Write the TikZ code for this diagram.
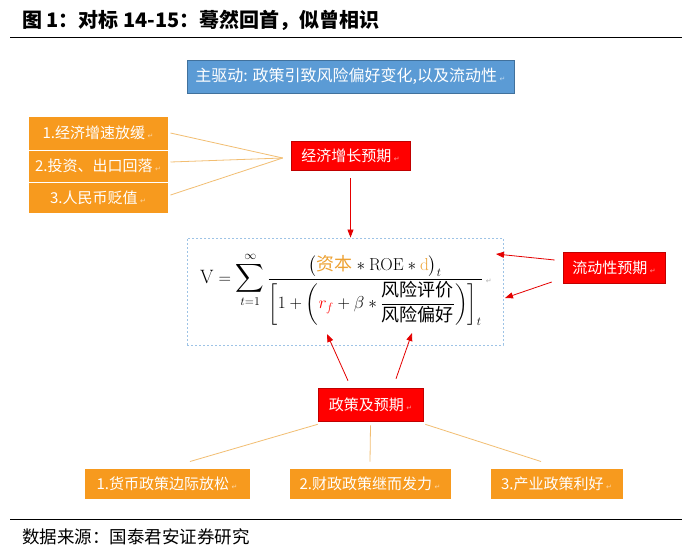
\documentclass[tikz,border=0pt]{standalone}
\usepackage[no-math]{fontspec}
\usepackage{amsmath}
\setmainfont{Noto Sans CJK SC}
\newfontfamily\symfont{DejaVu Sans}
\usetikzlibrary{arrows.meta}
\definecolor{boxorange}{HTML}{F79A1E}
\definecolor{boxred}{HTML}{FF0000}
\definecolor{rededge}{HTML}{C00000}
\definecolor{boxblue}{HTML}{5B9BD5}
\definecolor{blueedge}{HTML}{41719C}
\definecolor{linktan}{HTML}{F2BE72}
\definecolor{dashblue}{HTML}{9DC3E6}
\definecolor{formorange}{HTML}{EDA234}
\newcommand{\retmark}[1]{\,{\symfont\fontsize{7}{7}\selectfont\textcolor{#1}{↵}}}
\begin{document}
\begin{tikzpicture}[x=1pt,y=-1pt,
  boxtext/.style={text=white, font=\fontsize{15}{18}\selectfont, inner sep=0pt},
  obox/.style={boxtext, fill=boxorange, draw=white, line width=1pt},
  rbox/.style={boxtext, fill=boxred, draw=rededge, line width=0.6pt},
  link/.style={draw=linktan, line width=0.8pt},
  arr/.style={draw=red!90!black, line width=0.8pt, -{Triangle[length=8pt,width=6pt]}}]
\useasboundingbox (0,0) rectangle (691,550);
\fill[white] (0,0) rectangle (691,550);
% title and rules
\node[anchor=west, font=\fontsize{20}{22}\selectfont\bfseries, inner sep=0pt] (title) at (22,20) {图 1：对标 14-15：蓦然回首，似曾相识};
\draw[line width=1pt] (10,37) -- (682,37);
\draw[line width=1pt] (10,519) -- (682,519);
\node[anchor=west, font=\fontsize{17.5}{19}\selectfont, inner sep=0pt] (src) at (22,537) {数据来源：国泰君安证券研究};
% main driver
\node[boxtext, font=\fontsize{16}{19}\selectfont, fill=boxblue, draw=blueedge, line width=0.8pt, minimum width=327, minimum height=33] (main) at (350.5,76.5) {主驱动: 政策引致风险偏好变化,以及流动性\retmark{white!60!boxblue}};
% left boxes
\node[obox, minimum width=140, minimum height=34] (b1) at (98,133) {1.经济增速放缓\retmark{white!60!boxorange}};
\node[obox, minimum width=140, minimum height=32] (b2) at (98,166) {2.投资、出口回落\retmark{white!60!boxorange}};
\node[obox, minimum width=140, minimum height=31] (b3) at (98,197.5) {3.人民币贬值\retmark{white!60!boxorange}};
\node[rbox, minimum width=119, minimum height=29] (econ) at (350.5,155.5) {经济增长预期\retmark{white!60!boxred}};
\coordinate (conv) at ([xshift=-8pt,yshift=-2.5pt]econ.west);
\draw[link] ([xshift=2pt]b1.east) -- (conv);
\draw[link] ([xshift=2pt,yshift=4pt]b2.east) -- (conv);
\draw[link] ([xshift=2pt,yshift=2.5pt]b3.east) -- (conv);
% formula
\node[draw=dashblue, dash pattern=on 2pt off 2pt, line width=0.9pt, minimum width=316, minimum height=107, inner sep=0pt] (fbox) at (345,291.5) {};
\node[inner sep=0pt, font=\fontsize{18}{22}\selectfont] (formula) at (346,289) {$\displaystyle \scalebox{1.12}{$\mathrm{V}$}=\mathop{\scalebox{1.15}{$\displaystyle\sum$}}_{t=1}^{\infty}\frac{\bigl(\text{\color{formorange}资本}\ast\mathrm{ROE}\ast\textcolor{formorange}{\mathrm{d}}\bigr)_{t}}{\left[1+\left(\textcolor{red}{r_f}+\beta\ast\dfrac{\text{风险评价}}{\text{风险偏好}}\right)\right]_{t}}$\retmark{gray!60}};
\draw[arr] ([yshift=-8pt]econ.south) -- (econ.south |- fbox.north);
% liquidity
\node[rbox, minimum width=102, minimum height=31] (liq) at (614,267.5) {流动性预期\retmark{white!60!boxred}};
\coordinate (lt1) at (496,254);
\coordinate (lt2) at (505,298);
\draw[arr] ([xshift=-8pt,yshift=7.5pt]liq.west) -- (lt1);
\draw[arr] ([xshift=-11pt,yshift=-14.5pt]liq.west) -- (lt2);
% policy
\node[rbox, minimum width=105, minimum height=33] (pol) at (370.5,404.5) {政策及预期\retmark{white!60!boxred}};
\coordinate (pt1) at (327,334);
\coordinate (pt2) at (412,333);
\draw[arr] ([xshift=-22.5pt,yshift=7pt]pol.north) -- (pt1);
\draw[arr] ([xshift=25.5pt,yshift=9pt]pol.north) -- (pt2);
\node[obox, minimum width=166, minimum height=31] (c1) at (167,483.5) {1.货币政策边际放松\retmark{white!60!boxorange}};
\node[obox, minimum width=162, minimum height=31] (c2) at (370,483.5) {2.财政政策继而发力\retmark{white!60!boxorange}};
\node[obox, minimum width=133, minimum height=31] (c3) at (556.5,483.5) {3.产业政策利好\retmark{white!60!boxorange}};
\draw[link] ([yshift=-3pt]pol.south west) -- ([xshift=23pt,yshift=6pt]c1.north);
\draw[link] ([yshift=-4pt]pol.south) -- ([yshift=6pt]c2.north);
\draw[link] ([xshift=2pt,yshift=-3pt]pol.south east) -- ([xshift=-15.5pt,yshift=6pt]c3.north);
\end{tikzpicture}
\end{document}
